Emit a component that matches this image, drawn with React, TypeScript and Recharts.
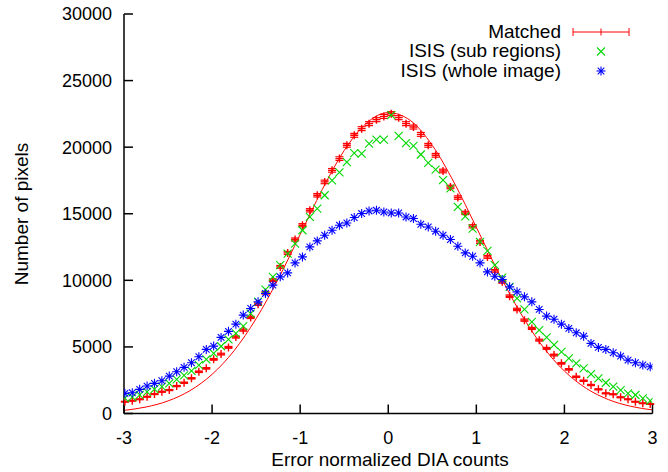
import React from 'react';
import {
  ComposedChart,
  Scatter,
  Line,
  XAxis,
  YAxis,
  ErrorBar,
} from 'recharts';

// bin centres
const xs = [
  -2.99, -2.906, -2.822, -2.738, -2.654, -2.57, -2.486, -2.402, -2.318, -2.234,
  -2.15, -2.066, -1.982, -1.898, -1.814, -1.73, -1.646, -1.562, -1.478, -1.394,
  -1.31, -1.226, -1.142, -1.058, -0.974, -0.89, -0.806, -0.722, -0.638, -0.554,
  -0.47, -0.386, -0.302, -0.218, -0.134, -0.05, 0.034, 0.118, 0.202, 0.286,
  0.37, 0.454, 0.538, 0.622, 0.706, 0.79, 0.874, 0.958, 1.042, 1.126,
  1.21, 1.294, 1.378, 1.462, 1.546, 1.63, 1.714, 1.798, 1.882, 1.966,
  2.05, 2.134, 2.218, 2.302, 2.386, 2.47, 2.554, 2.638, 2.722, 2.806,
  2.89, 2.974,
];

const matched = [
  885, 960, 1065, 1260, 1460, 1635, 1760, 2060, 2310, 2640,
  3135, 3390, 4065, 4460, 4965, 5740, 6260, 7215, 8210, 9060,
  10010, 11010, 12060, 13065, 14140, 15260, 16390, 17390, 18260, 19140,
  20140, 20890, 21390, 21765, 22065, 22310, 22515, 22215, 21765, 21510,
  20960, 20140, 19390, 18210, 17010, 16215, 15060, 14060, 12885, 11760,
  10710, 9885, 8810, 7815, 7010, 6390, 5510, 4890, 4390, 3765,
  3315, 2760, 2460, 2140, 1815, 1515, 1440, 1215, 1065, 885,
  765, 710,
];

const matchedErr = [
  30, 31, 33, 35, 38, 40, 42, 45, 48, 51,
  56, 58, 64, 67, 70, 76, 79, 85, 91, 95,
  100, 105, 110, 114, 119, 124, 128, 132, 135, 138,
  142, 145, 146, 148, 149, 149, 150, 149, 148, 147,
  145, 142, 139, 135, 130, 127, 123, 119, 114, 108,
  103, 99, 94, 88, 84, 80, 74, 70, 66, 61,
  58, 53, 50, 46, 43, 39, 38, 35, 33, 30,
  28, 27,
];

const subRegions = [
  1150, 1230, 1400, 1620, 1830, 2020, 2260, 2560, 2860, 3200,
  3640, 4060, 4520, 5050, 5560, 6020, 6560, 7500, 8400, 9300,
  10260, 11135, 12010, 12760, 13760, 14760, 15390, 16390, 17510, 18100,
  18885, 19560, 19510, 20260, 20560, 20560, 22400, 20850, 20300, 20100,
  19450, 18820, 18320, 17530, 16900, 15510, 14810, 13890, 12885, 12210,
  11135, 10200, 9510, 8650, 7815, 6885, 6260, 5715, 5150, 4635,
  4140, 3765, 3390, 2960, 2640, 2310, 2010, 1760, 1515, 1390,
  1140, 960,
];

const wholeImage = [
  1515, 1560, 1815, 2060, 2265, 2460, 2810, 3135, 3465, 3810,
  4260, 4815, 5060, 5715, 6170, 6710, 7390, 7890, 8385, 9015,
  9640, 10260, 10560, 11310, 11760, 12510, 12960, 13390, 13760, 14140,
  14310, 14715, 15015, 15210, 15260, 15135, 15060, 15060, 14760, 14640,
  14210, 14010, 13690, 13390, 13065, 12560, 12060, 11810, 11310, 10635,
  10310, 10060, 9510, 9135, 8760, 8385, 7815, 7315, 7075, 6710,
  6390, 6060, 5810, 5265, 4965, 4815, 4560, 4310, 4010, 3810,
  3640, 3510,
];

// smooth curve drawn through the red points
const fitX = [
  -3, -2.75, -2.5, -2.25, -2, -1.75, -1.5, -1.25, -1, -0.75, -0.5, -0.25, 0,
  0.25, 0.5, 0.75, 1, 1.25, 1.5, 1.75, 2, 2.25, 2.5, 2.75, 3,
];
const fitY = [
  236, 488, 945, 1720, 2940, 4720, 7120, 10090, 13440, 16810, 19750, 21790, 22595,
  22010, 20140, 17310, 13985, 10610, 7560, 5065, 3185, 1880, 1045, 545, 266,
];

const xTicks = [-3, -2, -1, 0, 1, 2, 3];
const yTicks = [0, 5000, 10000, 15000, 20000, 25000, 30000];

const RED = '#ff0000';
const GREEN = '#00d800';
const BLUE = '#0000ff';
const FONT = '"Liberation Sans", Arial, Helvetica, sans-serif';

const matchedData = xs.map((x, i) => ({ x, y: matched[i], err: matchedErr[i] }));
const subData = xs.map((x, i) => ({ x, y: subRegions[i] }));
const wholeData = xs.map((x, i) => ({ x, y: wholeImage[i] }));
const fitData = fitX.map((x, i) => ({ x, y: fitY[i] }));

const PlusMark = ({ cx, cy }: any) => (
  <g stroke={RED} strokeWidth={1.4}>
    <line x1={cx - 4} y1={cy} x2={cx + 4} y2={cy} />
    <line x1={cx} y1={cy - 4} x2={cx} y2={cy + 4} />
  </g>
);

const CrossMark = ({ cx, cy }: any) => (
  <g stroke={GREEN} strokeWidth={1.1}>
    <line x1={cx - 4} y1={cy - 4} x2={cx + 4} y2={cy + 4} />
    <line x1={cx - 4} y1={cy + 4} x2={cx + 4} y2={cy - 4} />
  </g>
);

const StarMark = ({ cx, cy }: any) => (
  <g stroke={BLUE} strokeWidth={1.1}>
    <line x1={cx - 4.5} y1={cy} x2={cx + 4.5} y2={cy} />
    <line x1={cx} y1={cy - 4.5} x2={cx} y2={cy + 4.5} />
    <line x1={cx - 3.3} y1={cy - 3.3} x2={cx + 3.3} y2={cy + 3.3} />
    <line x1={cx - 3.3} y1={cy + 3.3} x2={cx + 3.3} y2={cy - 3.3} />
    <circle cx={cx} cy={cy} r={1.3} fill={BLUE} stroke="none" />
  </g>
);

const tickStyle = { fill: '#000', fontSize: 18, fontFamily: FONT };
const axisStroke = { stroke: '#000', strokeWidth: 1.5 };

function KeyBox() {
  const tx = 561;
  const sx = 601;
  return (
    <svg
      width={668}
      height={472}
      style={{ position: 'absolute', left: 0, top: 0, pointerEvents: 'none' }}
    >
      <g fontFamily={FONT} fontSize={19} fill="#000" textAnchor="end">
        <text x={tx} y={37.5}>Matched</text>
        <text x={tx} y={57}>ISIS (sub regions)</text>
        <text x={tx} y={76.5}>ISIS (whole image)</text>
      </g>
      <g stroke={RED} strokeWidth={1}>
        <line x1={573} y1={32} x2={629} y2={32} />
        <line x1={573} y1={28} x2={573} y2={36} />
        <line x1={629} y1={28} x2={629} y2={36} />
        <line x1={sx} y1={28.5} x2={sx} y2={35.5} />
      </g>
      <CrossMark cx={sx} cy={51.5} />
      <StarMark cx={sx} cy={71} />
      <text
        x={0}
        y={0}
        transform="translate(28, 214) rotate(-90)"
        textAnchor="middle"
        fontFamily={FONT}
        fontSize={19}
        fill="#000"
      >
        Number of pixels
      </text>
      <text x={390} y={466} textAnchor="middle" fontFamily={FONT} fontSize={19} fill="#000">
        Error normalized DIA counts
      </text>
    </svg>
  );
}

export default function App() {
  return (
    <div style={{ position: 'absolute', left: 0, top: 0, width: 668, height: 472, background: '#fff' }}>
      <ComposedChart
        width={668}
        height={472}
        margin={{ top: 14, right: 15.5, bottom: 0, left: 0 }}
      >
        <XAxis
          dataKey="x"
          type="number"
          domain={[-3, 3]}
          ticks={xTicks}
          allowDataOverflow
          height={58.5}
          tickSize={-9}
          tickMargin={26.5}
          tick={tickStyle}
          axisLine={axisStroke}
          tickLine={axisStroke}
        />
        <XAxis
          xAxisId="top"
          orientation="top"
          type="number"
          domain={[-3, 3]}
          ticks={xTicks}
          allowDataOverflow
          height={0}
          tickSize={-9}
          tick={false}
          axisLine={axisStroke}
          tickLine={axisStroke}
        />
        <YAxis
          type="number"
          domain={[0, 30000]}
          ticks={yTicks}
          allowDataOverflow
          width={124}
          tickSize={-9}
          tickMargin={21}
          tick={tickStyle}
          axisLine={axisStroke}
          tickLine={axisStroke}
        />
        <YAxis
          yAxisId="right"
          orientation="right"
          type="number"
          domain={[0, 30000]}
          ticks={yTicks}
          allowDataOverflow
          width={0}
          tickSize={-9}
          tick={false}
          axisLine={axisStroke}
          tickLine={axisStroke}
        />
        <Line
          data={fitData}
          dataKey="y"
          type="monotone"
          stroke={RED}
          strokeWidth={1}
          dot={false}
          activeDot={false}
          isAnimationActive={false}
        />
        <Scatter data={matchedData} dataKey="y" shape={PlusMark} isAnimationActive={false}>
          <ErrorBar dataKey="err" direction="y" width={4} stroke={RED} strokeWidth={1.2} />
        </Scatter>
        <Scatter data={subData} dataKey="y" shape={CrossMark} isAnimationActive={false} />
        <Scatter data={wholeData} dataKey="y" shape={StarMark} isAnimationActive={false} />
      </ComposedChart>
      <KeyBox />
    </div>
  );
}
